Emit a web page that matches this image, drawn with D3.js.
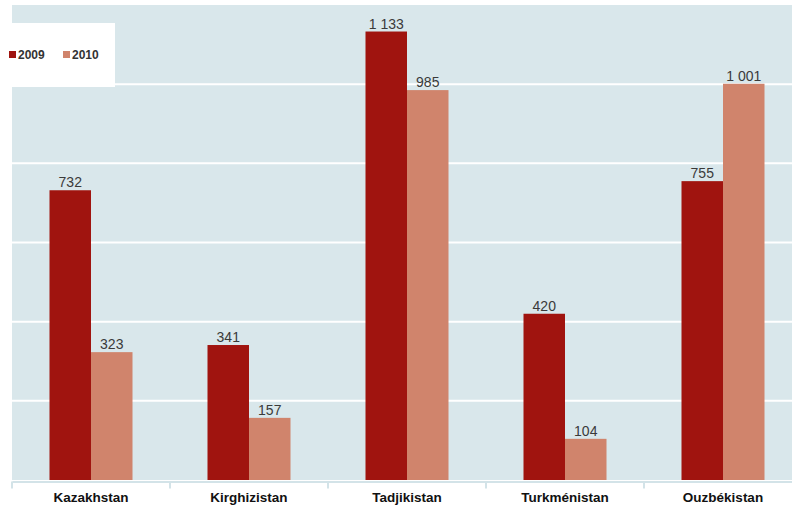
<!DOCTYPE html>
<html><head><meta charset="utf-8">
<script src="https://cdn.jsdelivr.net/npm/d3@7"></script>
<style>html,body{margin:0;padding:0;background:#fff;}svg{display:block;}</style>
</head><body>
<svg id="c" width="792" height="510"></svg>
<script>
const categories = ["Kazakhstan", "Kirghizistan", "Tadjikistan", "Turkménistan", "Ouzbékistan"];
const seriesNames = ["2009", "2010"];
const values2009 = [732, 341, 1133, 420, 755];
const values2010 = [323, 157, 985, 104, 1001];
const yTicks = [200, 400, 600, 800, 1000];
const colors = ["#a0140f", "#d0846c"];

const svg = d3.select("#c");
const plot = {left: 12, right: 802, top: 5, bottom: 480};

const x = d3.scaleBand().domain(categories).range([plot.left, plot.right]).padding(0);
const barW = 41.5;
const xs = d3.scaleBand().domain(seriesNames).range([-barW, barW]).padding(0);
const y = d3.scaleLinear().domain([0, 1200]).range([plot.bottom, plot.top]);

// background
svg.append("rect").attr("x", plot.left).attr("y", plot.top)
  .attr("width", 792 - plot.left).attr("height", plot.bottom - plot.top)
  .attr("fill", "#d9e7eb");

// gridlines
svg.append("g").selectAll("line").data(yTicks).join("line")
  .attr("x1", plot.left).attr("x2", 792)
  .attr("y1", d => y(d)).attr("y2", d => y(d))
  .attr("stroke", "#ffffff").attr("stroke-width", 2);

// bars
const data = categories.map((c, i) => ({cat: c, vals: [values2009[i], values2010[i]]}));
const groups = svg.append("g").selectAll("g").data(data).join("g")
  .attr("transform", d => `translate(${x(d.cat) + x.bandwidth() / 2},0)`);
groups.selectAll("rect").data(d => d.vals.map((v, j) => ({v, s: seriesNames[j], j})))
  .join("rect")
  .attr("x", d => xs(d.s)).attr("width", xs.bandwidth())
  .attr("y", d => y(d.v)).attr("height", d => y(0) - y(d.v))
  .attr("fill", d => colors[d.j]);
const fmt = v => d3.format(",")(v).replace(/,/g, " ");
groups.selectAll("text").data(d => d.vals.map((v, j) => ({v, s: seriesNames[j], j})))
  .join("text")
  .attr("x", d => xs(d.s) + xs.bandwidth() / 2).attr("y", d => y(d.v) - 3)
  .attr("text-anchor", "middle")
  .attr("font-family", "Liberation Sans, Arial, sans-serif")
  .attr("font-size", 14).attr("fill", "#3a3a3a")
  .text(d => fmt(d.v));

// x axis
const xAxis = svg.append("g").attr("transform", `translate(0,${plot.bottom + 1.5})`)
  .call(d3.axisBottom(x).tickSize(0).tickFormat(""));
xAxis.select(".domain").attr("stroke", "#d3e3e8").attr("stroke-width", 2);
const bounds = categories.map(c => x(c));
xAxis.selectAll(".bnd").data(bounds).join("line").attr("class", "bnd")
  .attr("x1", d => d).attr("x2", d => d).attr("y1", 0).attr("y2", 7)
  .attr("stroke", "#d3e3e8").attr("stroke-width", 2);
svg.append("g").selectAll("text").data(categories).join("text")
  .attr("x", d => x(d) + x.bandwidth() / 2).attr("y", 502)
  .attr("text-anchor", "middle")
  .attr("font-family", "Liberation Sans, Arial, sans-serif")
  .attr("font-weight", "bold").attr("font-size", 13.5).attr("fill", "#111")
  .text(d => d);

// legend
svg.append("rect").attr("x", 0).attr("y", 23).attr("width", 115).attr("height", 64).attr("fill", "#fff");
const leg = svg.append("g").selectAll("g").data(seriesNames).join("g")
  .attr("transform", (d, i) => `translate(${9 + i * 54},0)`);
leg.append("rect").attr("x", 0).attr("y", 51).attr("width", 7).attr("height", 7)
  .attr("fill", (d, i) => colors[i]);
leg.append("text").attr("x", 9).attr("y", 59)
  .attr("font-family", "Liberation Sans, Arial, sans-serif")
  .attr("font-weight", "bold").attr("font-size", 12).attr("fill", "#333")
  .text(d => d);
</script>
</body></html>
